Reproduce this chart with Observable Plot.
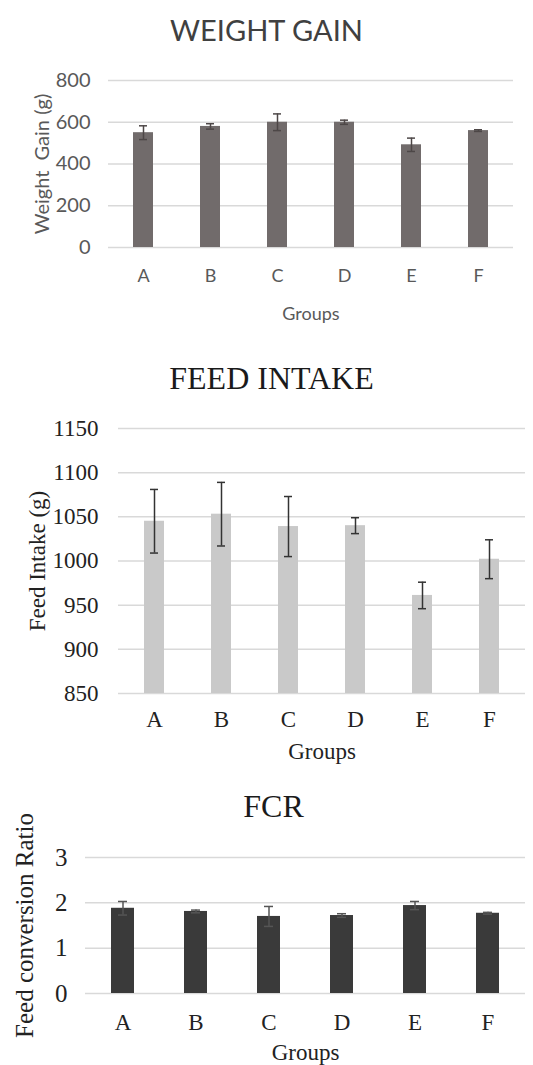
<!DOCTYPE html>
<html>
<head>
<meta charset="utf-8">
<script src="https://cdn.jsdelivr.net/npm/d3@7"></script>
<script src="https://cdn.jsdelivr.net/npm/@observablehq/plot@0.6"></script>
<style>
  html, body { margin: 0; padding: 0; background: #fff; }
  #page { position: relative; width: 533px; height: 1065px; overflow: hidden; background: #fff; }
  .title { position: absolute; left: 0; width: 533px; text-align: center; white-space: nowrap; }
  .chart { position: absolute; left: 0; }
  .chart svg { display: block; overflow: visible; }
</style>
</head>
<body>
<div id="page">
  <div class="title" id="t1" style="top:12px; left:0px; font-family:Lato, sans-serif; font-size:29px; color:#404040;">WEIGHT GAIN</div>
  <div id="c1" class="chart" style="top:50px;"></div>
  <div class="title" id="t2" style="top:360px; left:5px; font-family:'Liberation Serif', serif; font-size:32px; color:#1a1a1a;">FEED INTAKE</div>
  <div id="c2" class="chart" style="top:400px;"></div>
  <div class="title" id="t3" style="top:788px; left:7px; font-family:'Liberation Serif', serif; font-size:32px; color:#1a1a1a;">FCR</div>
  <div id="c3" class="chart" style="top:830px;"></div>
</div>
<script>
// ---- data ----
const groups = ["A", "B", "C", "D", "E", "F"];

const weightGain = [550, 580, 600, 600, 492, 560];
const weightGainErr = [33, 13, 40, 10, 32, 4];
const weightTicks = [0, 200, 400, 600, 800];

const feedIntake = [1045, 1053, 1039, 1040, 961, 1002];
const feedIntakeErr = [36, 36, 34, 9, 15, 22];
const intakeTicks = [850, 900, 950, 1000, 1050, 1100, 1150];

const fcr = [1.88, 1.81, 1.70, 1.72, 1.94, 1.77];
const fcrErr = [0.15, 0.03, 0.22, 0.04, 0.09, 0.02];
const fcrTicks = [0, 1, 2, 3];

// ---- tables ----
const rows = (vals, errs) => groups.map((g, i) => ({group: g, value: vals[i], err: errs[i]}));
const wg = rows(weightGain, weightGainErr);
const fi = rows(feedIntake, feedIntakeErr);
const fc = rows(fcr, fcrErr);
const plain = d => String(d);

function errMarks(data, stroke, inset, sw) {
  return [
    Plot.ruleX(data, {x: "group", y1: d => d.value - d.err, y2: d => d.value + d.err, stroke, strokeWidth: sw}),
    Plot.tickY(data, {x: "group", y: d => d.value + d.err, stroke, strokeWidth: sw, insetLeft: inset, insetRight: inset}),
    Plot.tickY(data, {x: "group", y: d => d.value - d.err, stroke, strokeWidth: sw, insetLeft: inset, insetRight: inset})
  ];
}

// ---- chart 1: Weight gain ----
const p1 = Plot.plot({
  width: 533, height: 280,
  marginTop: 30, marginBottom: 83, marginLeft: 108, marginRight: 20,
  style: {fontFamily: "Lato, sans-serif", fontSize: "18px", color: "#595959", background: "transparent"},
  x: {domain: groups, paddingInner: 0.7, paddingOuter: 0.35, axis: null},
  y: {domain: [weightTicks[0], weightTicks[weightTicks.length - 1]], axis: null},
  marks: [
    Plot.gridY(weightTicks, {stroke: "#d9d9d9", strokeOpacity: 1, strokeWidth: 1.5}),
    Plot.axisY({ticks: weightTicks, tickFormat: plain, tickSize: 0, tickPadding: 18, label: "Weight  Gain (g)", labelAnchor: "center", labelArrow: "none", labelOffset: 74, fontSize: 20}),
    Plot.axisX({tickSize: 0, tickPadding: 22, label: "Groups", labelAnchor: "center", labelArrow: "none", labelOffset: 72, fontSize: 18}),
    Plot.barY(wg, {x: "group", y: "value", fill: "#716b6b"}),
    ...errMarks(wg, "#4d4747", 6, 1.5)
  ]
});
document.getElementById("c1").appendChild(p1);

// ---- chart 2: Feed intake ----
const p2 = Plot.plot({
  width: 533, height: 365,
  marginTop: 28, marginBottom: 72, marginLeft: 118, marginRight: 8,
  style: {fontFamily: "'Liberation Serif', serif", fontSize: "22px", color: "#222", background: "transparent"},
  x: {domain: groups, paddingInner: 0.7, paddingOuter: 0.35, axis: null},
  y: {domain: [intakeTicks[0], intakeTicks[intakeTicks.length - 1]], axis: null},
  marks: [
    Plot.gridY(intakeTicks, {stroke: "#d9d9d9", strokeOpacity: 1, strokeWidth: 1.5}),
    Plot.axisY({ticks: intakeTicks, tickFormat: plain, tickSize: 0, tickPadding: 20, label: "Feed Intake (g)", labelAnchor: "center", labelArrow: "none", labelOffset: 90, fontSize: 23}),
    Plot.axisX({tickSize: 0, tickPadding: 17, label: "Groups", labelAnchor: "center", labelArrow: "none", labelOffset: 65, fontSize: 23}),
    Plot.barY(fi, {x: "group", y1: intakeTicks[0], y2: "value", fill: "#c9c9c9"}),
    ...errMarks(fi, "#333", 6, 1.5)
  ]
});
document.getElementById("c2").appendChild(p2);

// ---- chart 3: FCR ----
const p3 = Plot.plot({
  width: 533, height: 235,
  marginTop: 27, marginBottom: 72, marginLeft: 85, marginRight: 8,
  style: {fontFamily: "'Liberation Serif', serif", fontSize: "22px", color: "#222", background: "transparent"},
  x: {domain: groups, paddingInner: 0.686, paddingOuter: 0.343, axis: null},
  y: {domain: [fcrTicks[0], fcrTicks[fcrTicks.length - 1]], axis: null},
  marks: [
    Plot.gridY(fcrTicks, {stroke: "#d9d9d9", strokeOpacity: 1, strokeWidth: 1.5}),
    Plot.axisY({ticks: fcrTicks, tickFormat: plain, tickSize: 0, tickPadding: 18, label: "Feed conversion Ratio", labelAnchor: "center", labelArrow: "none", labelOffset: 70, fontSize: 25}),
    Plot.axisX({tickSize: 0, tickPadding: 20, label: "Groups", labelAnchor: "center", labelArrow: "none", labelOffset: 66, fontSize: 23}),
    Plot.barY(fc, {x: "group", y: "value", fill: "#3a3a3a"}),
    ...errMarks(fc, "#555", 7, 1.5)
  ]
});
document.getElementById("c3").appendChild(p3);
</script>
</body>
</html>
